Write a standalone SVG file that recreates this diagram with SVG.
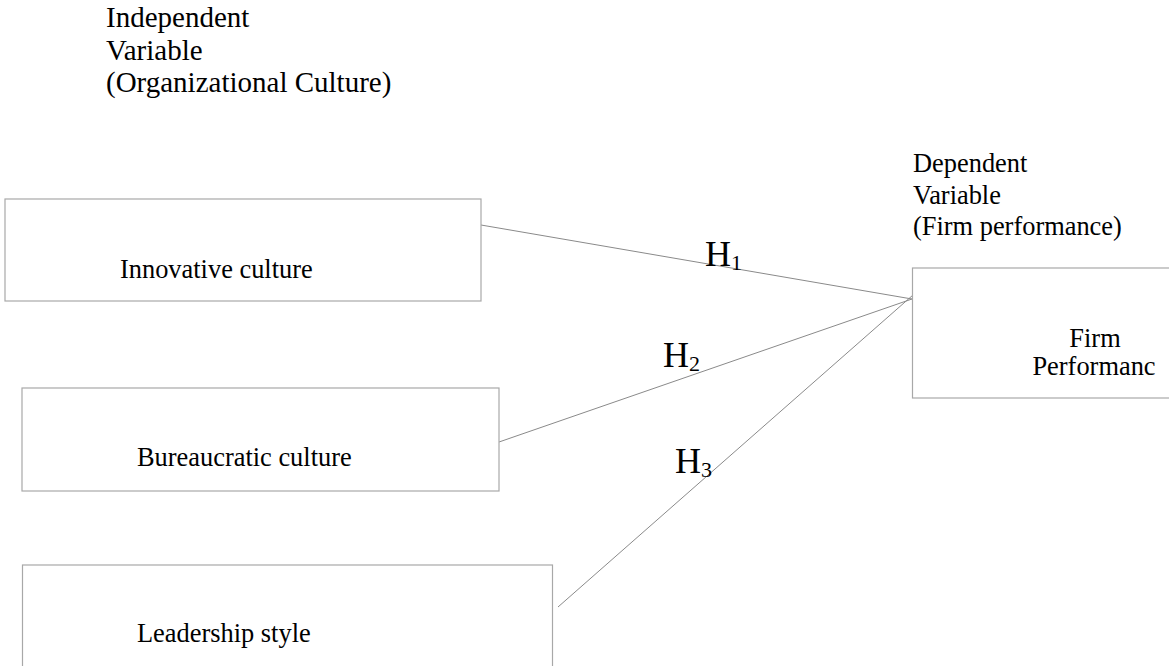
<svg xmlns="http://www.w3.org/2000/svg" width="1169" height="666" viewBox="0 0 1169 666">
<style>
.box{fill:#ffffff;stroke:#a8a8a8;stroke-width:1.2}
.t{font-family:"Liberation Serif","Times New Roman",serif;fill:#000}
.lbl{font-size:29px}
.bt{font-size:26.4px}
.h{font-size:36px}
.sub{font-size:22px}
.con{stroke:#8a8a8a;stroke-width:1;fill:none}
</style>
<rect width="1169" height="666" fill="#ffffff"/>
<g id="independent-label">
<text class="t lbl" x="106" y="27">Independent</text>
<text class="t lbl" x="106" y="60">Variable</text>
<text class="t lbl" x="106" y="92">(Organizational Culture)</text>
</g>
<g id="dependent-label">
<text class="t bt" x="913" y="172">Dependent</text>
<text class="t bt" x="913" y="204">Variable</text>
<text class="t bt" x="913" y="235">(Firm performance)</text>
</g>
<g id="connectors">
<line class="con" x1="481" y1="225" x2="912" y2="299"/>
<line class="con" x1="499" y1="442" x2="912" y2="299"/>
<line class="con" x1="558" y1="607" x2="913" y2="295"/>
<text class="t h" x="705" y="266">H<tspan class="sub" dy="4">1</tspan></text>
<text class="t h" x="663" y="367">H<tspan class="sub" dy="4">2</tspan></text>
<text class="t h" x="675" y="473">H<tspan class="sub" dy="4">3</tspan></text>
</g>
<g id="innovative">
<rect class="box" x="5" y="199" width="476" height="102"/>
<text class="t bt" x="120" y="278">Innovative culture</text>
</g>
<g id="bureaucratic">
<rect class="box" x="22" y="388" width="477" height="103"/>
<text class="t bt" x="137" y="466">Bureaucratic culture</text>
</g>
<g id="leadership">
<rect class="box" x="22.5" y="565" width="530" height="110"/>
<text class="t bt" x="137" y="642">Leadership style</text>
</g>
<g id="firm">
<rect class="box" x="912.5" y="268" width="270" height="130"/>
<text class="t bt" x="1095" y="347" text-anchor="middle">Firm</text>
<text class="t bt" x="1094" y="375" text-anchor="middle">Performanc</text>
</g>
</svg>
